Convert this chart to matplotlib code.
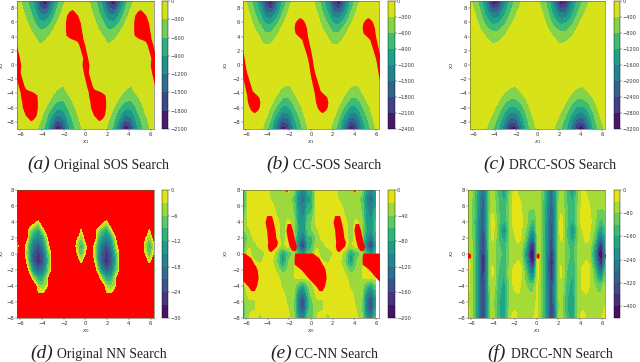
import numpy as np
import matplotlib
matplotlib.use("Agg")
import matplotlib.pyplot as plt

TWO_PI = 2 * np.pi
W, H = 640, 362

# ---- SOS panels: lower lobe, one period, rows y=-9..-3, columns x=-2pi + k*pi/6 (k=0..11)
sos_a = [
    [-80, 0, 0, -140, -420, -720, -1350, -2090, -1720, -1000, -620, -390],
    [-40, 0, 0, -50, -290, -580, -1080, -1650, -1420, -870, -540, -320],
    [0, 0, 0, 0, -180, -440, -820, -1180, -1110, -700, -440, -210],
    [0, 0, 0, 0, -90, -290, -590, -850, -820, -560, -350, -120],
    [0, 0, 0, 0, 0, -150, -370, -570, -600, -440, -230, 0],
    [0, 0, 0, 0, 0, -50, -220, -390, -410, -280, -90, 0],
    [0, 0, 0, 0, 0, 0, -60, -220, -330, -180, 0, 0],
]
sos_b = [
    [-160, 0, 0, -190, -470, -850, -1550, -2395, -1970, -1150, -750, -430],
    [-90, 0, 0, -80, -350, -700, -1280, -1870, -1670, -1020, -650, -340],
    [0, 0, 0, 0, -220, -520, -970, -1360, -1290, -830, -520, -230],
    [0, 0, 0, 0, -110, -360, -680, -990, -960, -650, -410, -130],
    [0, 0, 0, 0, 0, -200, -440, -680, -700, -490, -260, 0],
    [0, 0, 0, 0, 0, -80, -280, -480, -500, -320, -120, 0],
    [0, 0, 0, 0, 0, 0, -110, -300, -370, -210, -30, 0],
]
sos_c = [
    [-330, 0, 0, -460, -740, -1120, -1850, -2950, -3190, -1950, -1060, -640],
    [-210, 0, 0, -300, -610, -970, -1550, -2280, -2420, -1640, -930, -530],
    [-70, 0, 0, -130, -440, -780, -1240, -1770, -1810, -1330, -790, -400],
    [0, 0, 0, 0, -250, -570, -930, -1260, -1310, -1000, -610, -270],
    [0, 0, 0, 0, -80, -350, -650, -870, -880, -700, -430, -110],
    [0, 0, 0, 0, 0, -150, -420, -600, -610, -450, -220, 0],
    [0, 0, 0, 0, 0, 0, -150, -340, -420, -250, -40, 0],
]

# red band outlines (upper half, the lower half mirrors through the origin)
red_a_y = [0, 1, 2, 3, 3.4, 3.8, 4.2, 5, 6, 7, 7.5, 7.8]
red_a_left = [-0.32, -0.26, -0.44, -0.64, -0.8, -1.45, -1.8, -1.85, -1.85, -1.75, -1.55, -1.3]
red_a_right = [0.32, 0.2, 0.05, -0.1, -0.18, -0.26, -0.28, -0.38, -0.48, -0.72, -1.0, -1.2]
red_b_y = [0, 1, 2, 3, 3.6, 4.05, 4.5, 5.2, 5.9, 6.3, 6.65]
red_b_left = [-0.2, -0.33, -0.53, -0.73, -0.85, -1.15, -1.46, -1.56, -1.5, -1.35, -1.1]
red_b_right = [0.2, 0.1, -0.02, -0.17, -0.25, -0.32, -0.36, -0.42, -0.56, -0.7, -0.95]

# ---- panel d: values inside the ellipses, R means outside the plotted range
R = 20
nn_d_x = [-5.8, -5.5, -5.2, -4.85, -4.35, -3.9, -3.55, -3.25, -3.0, -1.1, -0.85, -0.6, -0.4, -0.2, 0.05, 0.3]
nn_d_y = [-8, -5, -4, -3, -2, -1, 0, 1, 2, 3, 4, 5, 8]
nn_d = [
    [R, R, R, R, R, R, R, R, R, R, R, R, R, R, R, R],
    [R, R, R, R, 1, 1, R, R, R, R, R, R, R, R, R, R],
    [R, R, R, R, -5, -6, -3, R, R, R, R, R, R, R, R, R],
    [R, R, R, -5, -12, -11, -4, R, R, R, R, R, R, R, R, R],
    [R, R, -4, -15, -21, -18, -10, -3, R, R, R, R, R, R, R, R],
    [R, 3, -10, -21, -27, -22, -13, -3, R, R, R, 5, -3, 5, R, R],
    [R, -3, -12, -21, -26, -21, -11, -3, R, R, 3, -6, -8, -6, 3, R],
    [R, -2, -10, -18, -23, -16, -7, 5, R, R, -3, -8, -11, -8, -2, R],
    [R, R, -7, -13, -17, -12, -3, R, R, R, 5, -4, -6, -3, R, R],
    [R, R, -3, -8, -12, -3, R, R, R, R, R, R, -2, R, R, R],
    [R, R, R, 5, -3, R, R, R, R, R, R, R, R, R, R, R],
    [R, R, R, R, R, R, R, R, R, R, R, R, R, R, R, R],
    [R, R, R, R, R, R, R, R, R, R, R, R, R, R, R, R],
]

# ---- panel e: one period, rows y=-8..8
nn_e_x = [-6.283, -5.76, -5.24, -4.71, -4.19, -3.67, -3.14, -2.62, -2.09, -1.57, -1.2, -0.71, -0.3]
nn_e = [
    [-60, -20, -8, -28, -10, -5, -5, -5, -15, -32, -85, -115, -45],
    [-50, -22, -22, -15, -5, -5, -5, -8, -20, -38, -110, -155, -65],
    [-50, -22, -25, -5, -5, -5, -5, -12, -25, -38, -115, -170, -75],
    [-35, -15, -5, -5, -5, -5, -5, -15, -28, -32, -95, -130, -65],
    [-25, -10, -5, -5, -5, -5, -8, -25, -30, -28, -60, -85, -40],
    [-15, -5, -5, -5, -5, -5, -12, -30, -30, -20, -15, -15, -10],
    [-5, -5, -5, -8, -5, -5, -25, -50, -35, -20, -15, -15, -10],
    [-5, -5, -15, -25, -5, -15, -40, -95, -40, -20, -20, -20, -15],
    [-50, -10, -35, -45, -15, -5, -35, -90, -55, -30, -60, -90, -50],
    [-70, -20, -30, -10, -8, -5, -8, -25, -10, -40, -115, -190, -70],
    [-70, -35, -15, -8, -10, -5, -10, -30, -10, -35, -90, -130, -60],
    [-40, -25, -5, -5, -8, -5, -12, -30, -10, -30, -80, -100, -50],
    [-45, -10, -5, -5, -8, -8, -15, -30, -15, -30, -85, -100, -50],
    [-60, -8, -5, -5, -5, -5, -22, -30, -28, -40, -90, -110, -60],
    [-80, -8, -5, -5, -5, -12, -30, -30, -28, -45, -95, -125, -75],
    [-85, -10, -5, -5, -5, -25, -30, -30, -25, -50, -105, -135, -85],
    [-70, -10, -5, -5, -5, -25, -30, -25, -15, -35, -80, -115, -70],
]
red_e1_y = [0.3, 0.5, 1, 1.5, 2, 3, 4, 4.8]
red_e1_left = [-3.8, -3.95, -4.04, -4.0, -4.04, -4.1, -4.25, -4.1]
red_e1_right = [-3.7, -3.55, -3.18, -3.1, -3.24, -3.33, -3.49, -3.64]
red_e2_y = [0.4, 0.5, 1, 2, 3, 3.8]
red_e2_left = [-1.7, -1.8, -2.02, -2.2, -2.32, -2.2]
red_e2_right = [-1.55, -1.4, -1.35, -1.56, -1.71, -1.9]
red_e3_y = [-4.6, -4, -3, -2, -1.5, -1.3, -0.5, 0.1]
red_e3_left = [0.73, 0.43, -0.28, -0.89, -1.35, -1.56, -1.56, -1.5]
red_e3_right = [1.04, 1.25, 1.4, 1.31, 1.16, 1.04, 0.73, 0.15]
red_e4_y = [7.75, 8]
red_e4_left = [-2.3, -2.42]
red_e4_right = [-2.25, -2.15]

# ---- panel f
nn_f_x = [-6.283, -5.95, -5.5, -5.2, -4.88, -4.57, -4.27, -4.02, -3.5, -2.95, -2.43,
          -1.97, -1.66, -1.36, -0.9, -0.55, -0.28, -0.05]
nn_f_y = [-8, -6, -4, -2, -1, 0, 1, 2, 3, 4, 6, 8]
nn_f = [
    [-20, -70, -170, -280, -370, -250, -80, -50, -150, -190, -50, -15, -60, -60, -60, -40, -40, -30],
    [-30, -70, -170, -280, -370, -230, -80, -60, -160, -190, -60, -65, -60, -60, -60, -60, -60, -40],
    [-25, -65, -170, -290, -370, -220, -70, -35, -140, -180, -60, -25, -20, -50, -80, -100, -90, -60],
    [-15, -60, -170, -300, -410, -240, -60, -25, -120, -160, -60, -20, -10, -40, -130, -270, -300, -120],
    [-15, -60, -170, -300, -430, -250, -55, -40, -110, -150, -70, -50, -30, -60, -190, -370, -430, -200],
    [-30, -60, -170, -290, -400, -240, -55, -55, -100, -140, -70, -65, -65, -70, -230, -430, -438, -250],
    [-60, -65, -170, -280, -370, -220, -60, -50, -110, -150, -70, -55, -50, -60, -170, -370, -400, -200],
    [-60, -70, -170, -280, -360, -210, -70, -20, -120, -190, -70, -45, -15, -50, -110, -260, -280, -170],
    [-60, -70, -170, -275, -350, -210, -65, -15, -120, -240, -70, -30, -10, -40, -90, -170, -210, -120],
    [-60, -75, -170, -270, -340, -210, -60, -15, -110, -170, -60, -10, -10, -30, -70, -120, -140, -100],
    [-60, -75, -160, -250, -320, -200, -80, -45, -120, -150, -70, -10, -10, -45, -80, -70, -70, -70],
    [-30, -70, -140, -230, -300, -190, -90, -55, -130, -200, -80, -15, -60, -70, -70, -60, -60, -50],
]
red_f_y = [-0.55, -0.45, -0.2, 0.0, 0.1]
red_f_left = [0.05, -0.02, -0.06, -0.02, 0.05]
red_f_right = [0.15, 0.22, 0.24, 0.22, 0.15]

panel_labels = ["(a)", "(b)", "(c)", "(d)", "(e)", "(f)"]
panel_titles = ["Original SOS Search", "CC-SOS Search", "DRCC-SOS Search",
                "Original NN Search", "CC-NN Search", "DRCC-NN Search"]
xlabels = ["$x_1$", "$x_1$", "$x_1$", "$x_0$", "$x_0$", "$x_1$"]
ylabels = ["$x_2$", "$x_2$", "$x_2$", "$x_2$", "$x_2$", "$x_2$"]
x_ticks = [-6, -4, -2, 0, 2, 4, 6]
y_ticks = [-8, -6, -4, -2, 0, 2, 4, 6, 8]

# layout in pixels: left, right, top, bottom, cbar left, cbar right
boxes = [
    (17.3, 153.7, 1.2, 129, 162, 168.5),
    (243, 379, 1.2, 129, 388, 394.7),
    (470, 605.3, 1.2, 129, 614, 620),
    (17.3, 153.7, 190, 317.7, 162, 168.5),
    (243, 379, 190, 317.7, 388, 394.7),
    (468, 605, 190, 317.7, 614, 620),
]
ylabel_px = [6.5, 229.5, 455.5, 6.5, 229.5, 455.5]
cap_x = [(27, 53.5), (266, 293), (483, 509), (30, 57), (270, 295), (487, 511)]
cap_base = [169, 169, 169, 358, 358, 358]

fig = plt.figure(figsize=(W / 100, H / 100), dpi=100)


def px_axes(l, r, t, b):
    return fig.add_axes([l / W, 1 - b / H, (r - l) / W, (b - t) / H])


def sos_field(table):
    rows = np.zeros((19, 12))
    rows[:7] = np.array(table, dtype=float)
    z = rows[:, np.arange(25) % 12]
    z = z + z[::-1, ::-1]
    x = -TWO_PI + np.arange(25) * (TWO_PI / 12)
    return x, np.arange(-9, 10), z


def tiled(x, z):
    x = np.asarray(x, float)
    z = np.asarray(z, float)
    return np.concatenate([x - TWO_PI, x, x + TWO_PI]), np.hstack([z, z, z])


def soften(z, n, axis):
    kernel = np.hanning(2 * n + 3)[1:-1]
    kernel = kernel / kernel.sum()
    pad = [(n, n) if a == axis else (0, 0) for a in range(2)]
    return np.apply_along_axis(np.convolve, axis, np.pad(z, pad, mode="edge"), kernel, mode="valid")


def smooth_contourf(ax, x, y, z, levels, top=-0.5):
    """Draw the read-off table with rounded contour corners instead of grid facets."""
    x = np.asarray(x, float)
    y = np.asarray(y, float)
    z = np.asarray(z, float)
    xf = np.arange(x[0], x[-1] + 0.01, 0.04)
    yf = np.arange(y[0], y[-1] + 0.01, 0.08)
    zx = np.array([np.interp(xf, x, row) for row in z])
    zf = np.array([np.interp(yf, y, col) for col in zx.T]).T
    zf = soften(soften(zf, 4, 1), 4, 0)
    zf = np.clip(zf, levels[0], top)
    return ax.contourf(xf, yf, zf, levels=levels, cmap="viridis", zorder=1)


def mirrored(y, left, right):
    y, left, right = map(lambda a: np.asarray(a, float), (y, left, right))
    return (np.concatenate([-y[::-1], y[1:]]),
            np.concatenate([-right[::-1], left[1:]]),
            np.concatenate([-left[::-1], right[1:]]))


def red(ax, y, left, right):
    y, left, right = map(lambda a: np.asarray(a, float), (y, left, right))
    for off in (-TWO_PI, 0, TWO_PI):
        ax.fill_betweenx(y, left + off, right + off, color="#ff0000", lw=0, zorder=3)


def style(ax, i, ymin, ymax):
    l, r, t, b, _, _ = boxes[i]
    ax.set_xlim(-6.283, 6.283)
    ax.set_ylim(ymin, ymax)
    ax.set_xticks(x_ticks)
    ax.set_yticks(y_ticks)
    ax.tick_params(length=1.2, width=0.3, pad=1, labelsize=3.8, colors="#333333")
    ax.set_xlabel(xlabels[i], fontsize=4.0, color="#333333")
    ax.set_ylabel(ylabels[i], fontsize=3.8, color="#333333")
    ax.xaxis.set_label_coords(0.5, -9.5 / (b - t))
    ax.yaxis.set_label_coords((ylabel_px[i] - l) / (r - l), 0.5)
    for s in ax.spines.values():
        s.set_linewidth(0.4)
        s.set_color("#555533")


def finish(i, cs, ticks):
    l, r, t, b, cl, cr = boxes[i]
    cax = px_axes(cl, cr, t, b)
    cb = fig.colorbar(cs, cax=cax, ticks=ticks)
    cb.ax.tick_params(length=1.2, width=0.3, pad=0.5, labelsize=3.6, colors="#333333")
    cb.outline.set_linewidth(0.3)
    fig.text(cap_x[i][0] / W, 1 - cap_base[i] / H, panel_labels[i],
             family="Liberation Serif", style="italic", fontsize=14, va="baseline", color="#222222")
    fig.text(cap_x[i][1] / W, 1 - cap_base[i] / H, panel_titles[i],
             family="Liberation Serif", fontsize=9.8, va="baseline", color="#222222")


sos = [(sos_a, 2100, 300, 300), (sos_b, 2400, 300, 300), (sos_c, 3200, 400, 400)]
for i, (tab, depth, step, tick) in enumerate(sos):
    ax = px_axes(*boxes[i][:4])
    x, y, z = sos_field(tab)
    levels = np.arange(-depth, 1, step)
    cs = smooth_contourf(ax, x, y, z, levels)
    style(ax, i, -9, 9)
    finish(i, cs, np.arange(-depth, 1, tick))
    if i == 0:
        yy, ll, rr = mirrored(red_a_y, red_a_left, red_a_right)
        red(ax, yy, ll, rr)
    if i == 1:
        yy, ll, rr = mirrored(red_b_y, red_b_left, red_b_right)
        red(ax, yy, ll, rr)

# panel d
ax = px_axes(*boxes[3][:4])
ax.set_facecolor("#ff0000")
x, z = tiled(nn_d_x, nn_d)
cs = ax.contourf(x, nn_d_y, z, levels=np.arange(-30, 1, 3), cmap="viridis", zorder=1)
style(ax, 3, -8, 8)
finish(3, cs, np.arange(-30, 1, 6))

# panel e
ax = px_axes(*boxes[4][:4])
x, z = tiled(nn_e_x, nn_e)
cs = smooth_contourf(ax, x, np.arange(-8, 9), z, np.arange(-200, 1, 20))
style(ax, 4, -8, 8)
finish(4, cs, np.arange(-200, 1, 40))
for yy, ll, rr in [(red_e1_y, red_e1_left, red_e1_right), (red_e2_y, red_e2_left, red_e2_right),
                   (red_e3_y, red_e3_left, red_e3_right), (red_e4_y, red_e4_left, red_e4_right)]:
    red(ax, yy, ll, rr)

# panel f
ax = px_axes(*boxes[5][:4])
x, z = tiled(nn_f_x, nn_f)
cs = smooth_contourf(ax, x, nn_f_y, z, np.arange(-440, 1, 40))
style(ax, 5, -8, 8)
finish(5, cs, np.arange(-400, 1, 80))
red(ax, red_f_y, red_f_left, red_f_right)

fig.savefig("out.png", dpi=100)
